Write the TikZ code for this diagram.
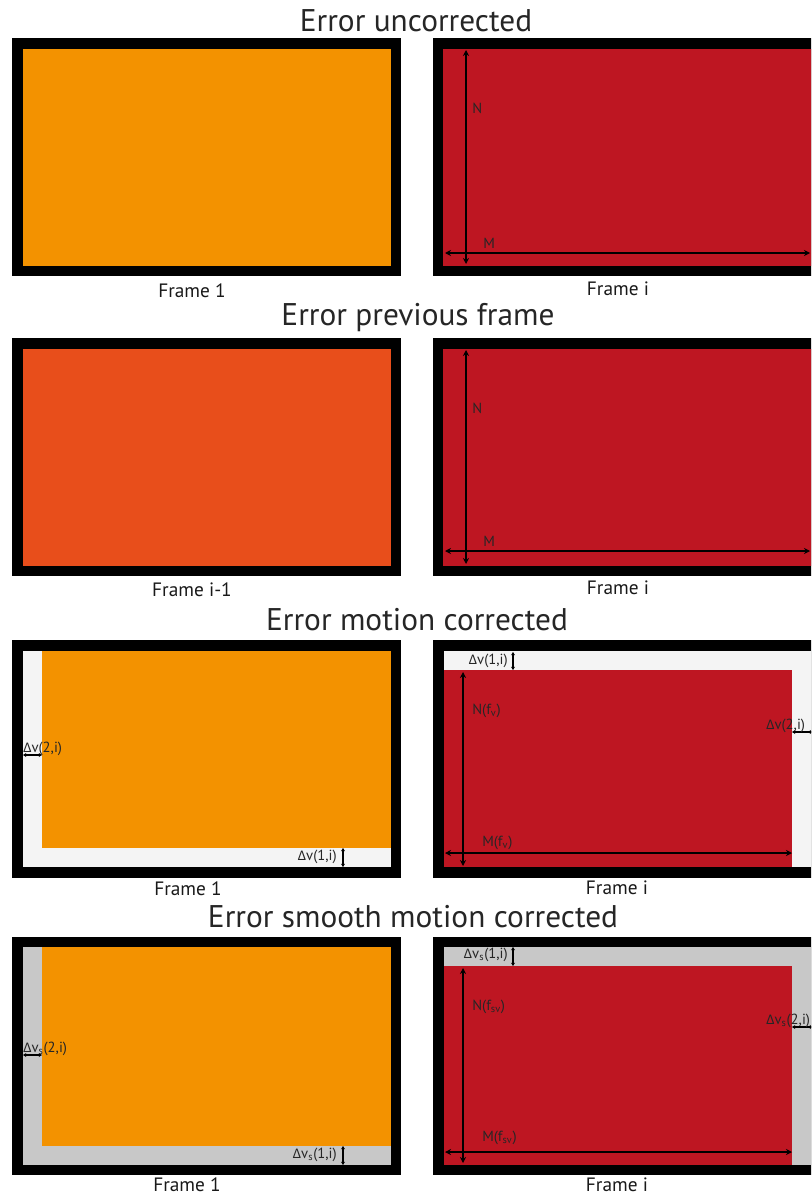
\documentclass[tikz,border=0pt]{standalone}
\usepackage{fontspec}
\setmainfont{PT Sans}
\newfontfamily\grk{Carlito}
\newcommand\Dl{{\grk Δ}}
\usetikzlibrary{arrows.meta}
\definecolor{cOrange}{HTML}{F39200}
\definecolor{cRed}{HTML}{BE1622}
\definecolor{cRedOr}{HTML}{E84E1B}
\definecolor{cLight}{HTML}{F4F4F4}
\definecolor{cGray}{HTML}{C8C8C8}
\tikzset{
  title/.style={font=\fontsize{23.5}{28}\selectfont, inner sep=0pt, text=black!85},
  flabel/.style={font=\fontsize{14.5}{17}\selectfont, inner sep=0pt, text=black!90},
  small/.style={font=\fontsize{11}{13}\selectfont, inner sep=0pt, text=black!85},
  dimline/.style={line width=1.5pt, {Stealth[length=4.5pt,width=4.5pt]}-{Stealth[length=4.5pt,width=4.5pt]}},
  dimsmall/.style={line width=0.9pt, {Stealth[length=2.5pt,width=3pt]}-{Stealth[length=2.5pt,width=3pt]}},
}
\begin{document}
\begin{tikzpicture}[x=0.75pt,y=-0.75pt]
\useasboundingbox (0,0) rectangle (811,1195);
\clip (0,0) rectangle (811,1195);
\fill[white] (0,0) rectangle (811,1195);

% ---------------- Row 1 ----------------
\node[title] (t1) at (416,21) {Error uncorrected};
\fill[black] (12,38) rectangle (401,276);
\fill[cOrange] (23,49) rectangle (391,266);
\node[flabel] (f11) at (192,291) {Frame 1};
\fill[black] (433,38) rectangle (830,276);
\fill[cRed] (443,49) rectangle (830,266);
\coordinate (n1a) at (466,50); \coordinate (n1b) at (466,264);
\coordinate (m1a) at (445,253); \coordinate (m1b) at (810,253);
\draw[dimline] (n1a) -- (n1b);
\draw[dimline] (m1a) -- (m1b);
\node[small,anchor=west] (N1) at (472,108) {N};
\node[small,anchor=west] (M1) at (483,243) {M};
\node[flabel] (f12) at (618,289) {Frame i};

% ---------------- Row 2 ----------------
\node[title] (t2) at (418,318) {Error previous frame};
\fill[black] (12,338) rectangle (401,576);
\fill[cRedOr] (23,349) rectangle (391,566);
\node[flabel] (f21) at (192,590) {Frame i-1};
\fill[black] (433,338) rectangle (830,576);
\fill[cRed] (443,349) rectangle (830,566);
\coordinate (n2a) at (466,350); \coordinate (n2b) at (466,564);
\coordinate (m2a) at (445,551); \coordinate (m2b) at (810,551);
\draw[dimline] (n2a) -- (n2b);
\draw[dimline] (m2a) -- (m2b);
\node[small,anchor=west] (N2) at (472,408) {N};
\node[small,anchor=west] (M2) at (483,541) {M};
\node[flabel] (f22) at (618,588) {Frame i};

% ---------------- Row 3 ----------------
\node[title] (t3) at (417,620) {Error motion corrected};
\fill[black] (12,640) rectangle (401,878);
\fill[cLight] (23,651) rectangle (391,867);
\fill[cOrange] (42,651) rectangle (391,848);
\coordinate (a3a) at (23,755); \coordinate (a3b) at (42,755);
\draw[dimsmall] (a3a) -- (a3b);
\node[small,anchor=south west] (d32) at (23,756) {\Dl v(2,i)};
\coordinate (b3a) at (343,848); \coordinate (b3b) at (343,867);
\draw[dimsmall] (b3a) -- (b3b);
\node[small,anchor=east] (d31) at (337,857) {\Dl v(1,i)};
\node[flabel] (f31) at (188,889) {Frame 1};

\fill[black] (433,640) rectangle (830,878);
\fill[cLight] (444,651) rectangle (830,867);
\fill[cRed] (444,670) rectangle (792,867);
\coordinate (c3a) at (513,652); \coordinate (c3b) at (513,670);
\draw[dimsmall] (c3a) -- (c3b);
\node[small,anchor=east] (e31) at (508,661) {\Dl v(1,i)};
\coordinate (n3a) at (463,672); \coordinate (n3b) at (463,866);
\coordinate (m3a) at (445,853); \coordinate (m3b) at (792,853);
\draw[dimline] (n3a) -- (n3b);
\draw[dimline] (m3a) -- (m3b);
\node[small,anchor=west] (N3) at (472,711) {N(f\textsubscript{v})};
\node[small,anchor=west] (M3) at (482,843) {M(f\textsubscript{v})};
\coordinate (g3a) at (792,732); \coordinate (g3b) at (813,732);
\draw[dimsmall] (g3a) -- (g3b);
\node[small,anchor=south west] (e32) at (766,733) {\Dl v(2,i)};
\node[flabel] (f32) at (617,888) {Frame i};

% ---------------- Row 4 ----------------
\node[title] (t4) at (413,917) {Error smooth motion corrected};
\fill[black] (12,937) rectangle (401,1175);
\fill[cGray] (23,947) rectangle (391,1165);
\fill[cOrange] (42,947) rectangle (391,1146);
\coordinate (a4a) at (23,1055); \coordinate (a4b) at (42,1055);
\draw[dimsmall] (a4a) -- (a4b);
\node[small,anchor=south west] (d42) at (23,1056) {\Dl v\textsubscript{s}(2,i)};
\coordinate (b4a) at (343,1146); \coordinate (b4b) at (343,1165);
\draw[dimsmall] (b4a) -- (b4b);
\node[small,anchor=east] (d41) at (337,1155) {\Dl v\textsubscript{s}(1,i)};
\node[flabel] (f41) at (187,1185) {Frame 1};

\fill[black] (433,937) rectangle (830,1175);
\fill[cGray] (444,947) rectangle (830,1165);
\fill[cRed] (444,966) rectangle (792,1165);
\coordinate (c4a) at (513,947); \coordinate (c4b) at (513,966);
\draw[dimsmall] (c4a) -- (c4b);
\node[small,anchor=east] (e41) at (508,955) {\Dl v\textsubscript{s}(1,i)};
\coordinate (n4a) at (463,968); \coordinate (n4b) at (463,1163);
\coordinate (m4a) at (445,1152); \coordinate (m4b) at (792,1152);
\draw[dimline] (n4a) -- (n4b);
\draw[dimline] (m4a) -- (m4b);
\node[small,anchor=west] (N4) at (472,1007) {N(f\textsubscript{sv})};
\node[small,anchor=west] (M4) at (482,1138) {M(f\textsubscript{sv})};
\coordinate (g4a) at (792,1027); \coordinate (g4b) at (813,1027);
\draw[dimsmall] (g4a) -- (g4b);
\node[small,anchor=south west] (e42) at (766,1028) {\Dl v\textsubscript{s}(2,i)};
\node[flabel] (f42) at (617,1185) {Frame i};
\end{tikzpicture}
\end{document}
